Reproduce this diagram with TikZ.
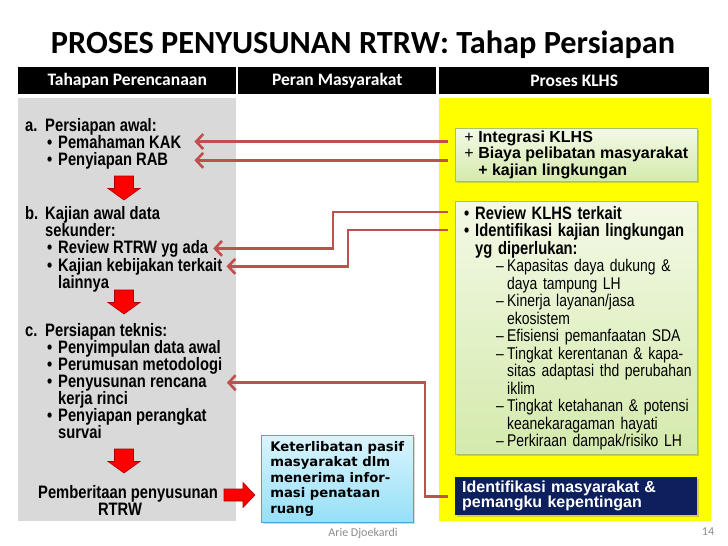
\documentclass[tikz,border=0pt]{standalone}
\usepackage{fontspec}
\setmainfont{Liberation Sans}
\newfontfamily\narrowfont[FakeStretch=0.82]{Liberation Sans}
\newfontfamily\calibrifont{Carlito}
\newfontfamily\verdanafont{DejaVu Sans}
\usepackage{tikz}
\usetikzlibrary{arrows.meta,positioning,shadows}

\definecolor{linkred}{RGB}{192,80,77}
\definecolor{panelgray}{RGB}{217,217,217}
\definecolor{klhsyellow}{RGB}{255,255,0}
\definecolor{navybox}{RGB}{13,31,92}
\definecolor{footgray}{RGB}{140,140,140}

\newcommand{\bul}{\makebox[11pt][l]{\textbullet}}
\newcommand{\dsh}{\hangindent=43pt\hspace*{32pt}\makebox[11pt][l]{\textendash}}

\begin{document}
\begin{tikzpicture}[
    x=1pt, y=-1pt,
    hdr/.style={fill=black, text=white, anchor=north west, minimum height=27pt, inner sep=0pt,
      font=\calibrifont\bfseries\fontsize{17.5}{18}\selectfont},
    panel/.style={anchor=north west, minimum height=423pt, inner sep=0pt},
    lt/.style={anchor=base west, inner sep=0pt, font=\narrowfont\bfseries\fontsize{18}{18}\selectfont},
    gbox/.style={draw={rgb,255:red,165;green,195;blue,105}, top color={rgb,255:red,243;green,249;blue,230},
      bottom color={rgb,255:red,212;green,234;blue,172}, anchor=north west, minimum width=242pt,
      inner sep=0pt, drop shadow={opacity=0.35, shadow xshift=1.5pt, shadow yshift=-1.5pt}},
    nbox/.style={fill=navybox, text=white, anchor=north west, text width=228pt, minimum height=38pt,
      align=left, inner xsep=7pt, inner ysep=0pt, font=\bfseries\fontsize{16}{15}\selectfont,
      drop shadow={opacity=0.35, shadow xshift=1.5pt, shadow yshift=-1.5pt}},
    bbox/.style={draw={rgb,255:red,80;green,165;blue,205}, top color={rgb,255:red,218;green,244;blue,253},
      bottom color={rgb,255:red,150;green,224;blue,248}, anchor=north west, minimum width=152pt,
      minimum height=87pt, align=left, inner xsep=7pt,
      font=\verdanafont\bfseries\fontsize{13.2}{15.5}\selectfont,
      drop shadow={opacity=0.3, shadow xshift=1.5pt, shadow yshift=-1.5pt}},
    link/.style={draw=linkred, line width=2.6pt, -{Straight Barb[length=7pt,width=15pt]}},
    blockarr/.style={fill=red, draw={rgb,255:red,170;green,0;blue,0}, line width=0.6pt},
    foot/.style={text=footgray, inner sep=0pt, font=\calibrifont\fontsize{12}{12}\selectfont},
    pics/downarr/.style={code={
      \draw[blockarr] (-9.5,0) -- (9.5,0) -- (9.5,12.5) -- (16,12.5) -- (0,24)
        -- (-16,12.5) -- (-9.5,12.5) -- cycle;}},
    pics/rightarr/.style={code={
      \draw[blockarr] (0,-6) -- (19,-6) -- (19,-12.5) -- (31,0) -- (19,12.5)
        -- (19,6) -- (0,6) -- cycle;}}
]
\useasboundingbox (0,0) rectangle (728,546);

% title and column heads
\node[anchor=base, font=\calibrifont\bfseries\fontsize{32.3}{34}\selectfont] (title) at (363,53)
  {PROSES PENYUSUNAN RTRW: Tahap Persiapan};
\node[hdr, minimum width=218pt] (h1) at (18,67) {Tahapan Perencanaan};
\node[hdr, minimum width=198pt] (h2) at (238,67) {Peran Masyarakat};
\node[hdr, minimum width=270pt] (h3) at (439,67) {Proses KLHS};

% column panels
\node[panel, fill=panelgray, minimum width=218pt] (pl) at (18,98) {};
\node[panel, fill=klhsyellow, minimum width=272pt] (pr) at (439,98) {};

% tahapan perencanaan
\node[lt] (a) at (25,131) {\makebox[20pt][l]{a.}Persiapan awal:};
\node[lt] (kak) at (47,148) {\bul Pemahaman KAK};
\node[lt] (rab) at (47,165) {\bul Penyiapan RAB};
\node[lt] (b) at (25,219) {\makebox[20pt][l]{b.}Kajian awal data};
\node[lt] (b2) at (45,236) {sekunder:};
\node[lt] (rev) at (47,253) {\bul Review RTRW yg ada};
\node[lt] (kaj) at (47,271) {\bul Kajian kebijakan terkait};
\node[lt] (kaj2) at (58,288) {lainnya};
\node[lt] (c) at (25,336) {\makebox[20pt][l]{c.}Persiapan teknis:};
\node[lt] (sim) at (47,353) {\bul Penyimpulan data awal};
\node[lt] (rum) at (47,370) {\bul Perumusan metodologi};
\node[lt] (ren) at (47,387) {\bul Penyusunan rencana};
\node[lt] (ren2) at (58,404) {kerja rinci};
\node[lt] (per) at (47,421) {\bul Penyiapan perangkat};
\node[lt] (per2) at (58,438) {survai};
\node[lt, anchor=base] (pem) at (128,498) {Pemberitaan penyusunan};
\node[lt, anchor=base] (rtrw) at (120,515) {RTRW};

\pic at (124,176) {downarr};
\pic at (124,290) {downarr};
\pic at (124,449) {downarr};
\pic at (224,495) {rightarr};

% peran masyarakat
\node[bbox] (pasif) at (261,435) {Keterlibatan pasif\\masyarakat dlm\\menerima infor-\\masi penataan\\ruang};

% proses KLHS
\node[gbox, minimum height=53pt, align=left, inner xsep=7pt,
  font=\bfseries\fontsize{16}{16.5}\selectfont] (gb1) at (455,128)
  {\makebox[14pt][l]{\mdseries+}Integrasi KLHS\\
   \makebox[14pt][l]{\mdseries+}Biaya pelibatan masyarakat\\
   \hspace*{14pt}+ kajian lingkungan};
\node[gbox, minimum height=253pt] (gb2) at (455,201) {};
\node[anchor=north west, inner sep=0pt, text width=230pt,
  font=\narrowfont\fontsize{17}{17.5}\selectfont] (gb2t) at ([shift={(9,5)}]gb2.north west)
  {\raggedright\parindent=0pt
   {\bfseries\fontsize{18}{17.5}\selectfont
   \hangindent=11pt\bul Review KLHS terkait\par
   \hangindent=11pt\bul Identifikasi kajian lingkungan\break yg diperlukan:\par}
   \dsh Kapasitas daya dukung \&\break daya tampung LH\par
   \dsh Kinerja layanan/jasa\break ekosistem\par
   \dsh Efisiensi pemanfaatan SDA\par
   \dsh Tingkat kerentanan \& kapa-\break sitas adaptasi thd perubahan\break iklim\par
   \dsh Tingkat ketahanan \& potensi\break keanekaragaman hayati\par
   \dsh Perkiraan dampak/risiko LH\par};
\node[nbox] (nv) at (455,477) {Identifikasi masyarakat \&\\pemangku kepentingan};

% connectors
\coordinate (k1) at (448,212);
\coordinate (k2) at (448,230);
\draw[link] ([xshift=-7pt]gb1.west |- kak.east) -- ([xshift=13pt]kak.east);
\draw[link] ([xshift=-7pt]gb1.west |- rab.east) -- ([xshift=13pt]kak.east |- rab.east);
\draw[link] (k1) -- ++(-115,0) |- ([xshift=5pt]rev.east);
\draw[link] (k2) -- ++(-100,0) |- ([xshift=4pt]kaj.east);
\draw[link] ([xshift=-7pt]nv.west) -- ++(-23,0) |- ([xshift=20pt]ren.east);

% footer
\node[foot] (auth) at (363,533) {Arie Djoekardi};
\node[foot] (pg) at (708,532) {14};
\end{tikzpicture}
\end{document}
